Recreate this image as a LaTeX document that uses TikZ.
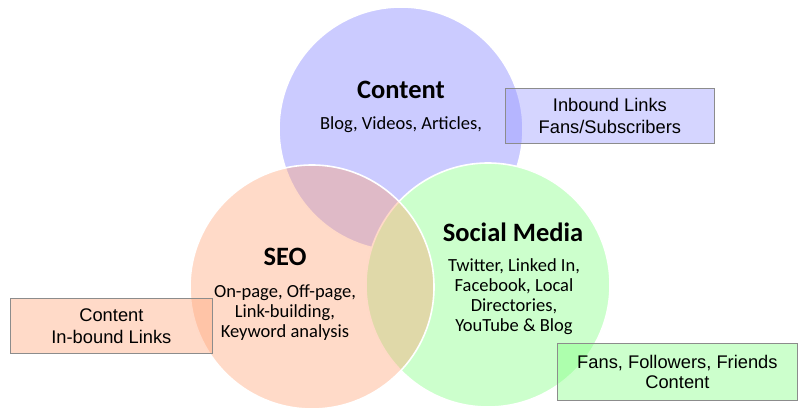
\documentclass[tikz,border=0pt]{standalone}
\usepackage{fontspec}
\setmainfont{Liberation Sans}
\newfontfamily\calibri{Carlito}
\definecolor{cblue}{RGB}{203,203,255}
\definecolor{cgreen}{RGB}{204,255,204}
\definecolor{seobase}{RGB}{255,162,117}
\definecolor{boxblue}{RGB}{150,150,255}
\definecolor{boxgreen}{RGB}{127,255,127}
\definecolor{boxline}{RGB}{140,140,140}
\begin{document}
\begin{tikzpicture}[x=1pt,y=-1pt,
  ring/.style={draw=white,line width=1.6pt},
  ttl/.style={font=\calibri\bfseries\fontsize{26.5}{30}\selectfont,inner sep=0pt},
  body/.style={font=\calibri\fontsize{18.5}{20}\selectfont,align=center,inner sep=0pt},
  boxtext/.style={font=\fontsize{18.3}{22}\selectfont,align=center,inner sep=0pt},
  infobox/.style={draw=boxline,line width=0.8pt,fill opacity=0.4,text opacity=1,
    inner sep=0pt,anchor=north west}]
\useasboundingbox (0,0) rectangle (801,408);
% circles
\path[ring,fill=cblue] (401,129) circle[radius=122];
\path[ring,fill=cgreen] (488,285) circle[radius=122];
\path[ring,fill=seobase,fill opacity=0.4] (312,287) circle[radius=122];
% titles and texts
\node[ttl] (ct) at (401,90) {Content};
\node[body] (cb) at (401,125) {Blog, Videos, Articles,};
\node[ttl] (st) at (285,257) {SEO};
\node[body] (sb) at (285,313) {On-page, Off-page,\\Link-building,\\Keyword analysis};
\node[ttl] (mt) at (513,232) {Social Media};
\node[body] (mb) at (514,297) {Twitter, Linked In,\\Facebook, Local\\Directories,\\YouTube \& Blog};
% boxes
\node[infobox,fill=seobase,minimum width=202,minimum height=55] (lb) at (10,298) {};
\node[boxtext] (lbt) at (lb.center) {Content\\In-bound Links};
\node[infobox,fill=boxblue,minimum width=209,minimum height=55] (tb) at (505,88) {};
\node[boxtext] (tbt) at (tb.center) {Inbound Links\\Fans/Subscribers};
\node[infobox,fill=boxgreen,minimum width=240,minimum height=57] (bb) at (557,343) {};
\node[boxtext,font=\fontsize{18.3}{20}\selectfont] (bbt) at (bb.center) {Fans, Followers, Friends\\Content};
\end{tikzpicture}
\end{document}
